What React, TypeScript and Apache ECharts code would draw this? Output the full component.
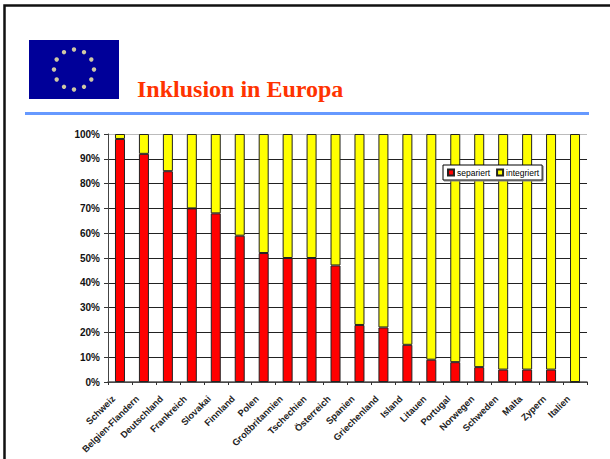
import React, { useEffect, useRef } from "react";
import * as echarts from "echarts";

const categories = ["Schweiz","Belgien-Flandern","Deutschland","Frankreich","Slovakai","Finnland","Polen","Großbritannien","Tschechien","Österreich","Spanien","Griechenland","Island","Litauen","Portugal","Norwegen","Schweden","Malta","Zypern","Italien"];
const separiert = [98,92,85,70,68,59,52,50,50,47,23,22,15,9,8,6,5,5,5,0];
const integriert = [2,8,15,30,32,41,48,50,50,53,77,78,85,91,92,94,95,95,95,100];

const stars = [0,1,2,3,4,5,6,7,8,9,10,11];
const gridColors = ["#222","#222","#222","#222","#222","#222","#222","#222","#222","#222","#bbb"];

export default function App() {
  const ref = useRef<HTMLDivElement>(null);
  useEffect(() => {
    const chart = echarts.init(ref.current!, undefined, { renderer: "svg" });
    const cx = 74, cy = 69.5, r = 20;
    chart.setOption({
      animation: false,
      backgroundColor: "#ffffff",
      grid: { left: 108, right: 23, top: 134, bottom: 77, containLabel: false },
      legend: {
        left: 443, top: 165, itemWidth: 6, itemHeight: 6, itemGap: 6,
        icon: "rect",
        padding: [3, 3, 3, 4],
        backgroundColor: "#fff", borderColor: "#000", borderWidth: 1,
        shadowColor: "#888", shadowOffsetX: 1, shadowOffsetY: 1, shadowBlur: 0,
        textStyle: { fontFamily: "Liberation Sans", fontSize: 8.5, color: "#000", padding: [0,0,0,-2] },
        data: ["separiert", "integriert"],
      },
      xAxis: {
        type: "category", data: categories,
        axisLine: { lineStyle: { color: "#555", width: 1.5 } },
        axisTick: { show: true, alignWithLabel: false, lineStyle: { color: "#333" }, length: 3 },
        axisLabel: { interval: 0, rotate: 45, fontFamily: "Liberation Sans", fontSize: 9.3, fontWeight: "bold", color: "#222", margin: 9, padding: [0, 9, 0, 0] },
      },
      yAxis: {
        type: "value", min: 0, max: 100, interval: 10,
        axisLine: { show: true, lineStyle: { color: "#444", width: 1 } },
        axisTick: { show: true, length: 4, lineStyle: { color: "#333" } },
        axisLabel: { formatter: "{value}%", fontFamily: "Liberation Sans", fontSize: 10, fontWeight: "bold", color: "#111", margin: 8 },
        splitLine: { show: true, lineStyle: { color: gridColors, width: 1 } },
      },
      series: [
        { name: "separiert", type: "bar", stack: "a", data: separiert, barWidth: 10, itemStyle: { color: "#ff0000", borderColor: "#222", borderWidth: 1 } },
        { name: "integriert", type: "bar", stack: "a", data: integriert, barWidth: 10, itemStyle: { color: "#ffff00", borderColor: "#222", borderWidth: 1 } },
      ],
      graphic: [
        { type: "rect", shape: { x: 4.5, y: 5.5, width: 620, height: 470 }, style: { fill: "none", stroke: "#111", lineWidth: 2.5 } },
        { type: "rect", shape: { x: 29, y: 40, width: 90, height: 59 }, style: { fill: "#000099" } },
        ...stars.map((i) => ({
          type: "circle",
          shape: { cx: cx + r * Math.sin((i * Math.PI) / 6), cy: cy + r * Math.cos((i * Math.PI) / 6), r: 2.2 },
          style: { fill: "#cfc8a4" },
        })),
        { type: "text", x: 137, y: 77, style: { text: "Inklusion in Europa", font: "bold 24px 'Liberation Serif'", fill: "#ff3300" } },
        { type: "rect", shape: { x: 25, y: 112, width: 564, height: 3 }, style: { fill: "#6699ff" } },
      ],
    });
    return () => chart.dispose();
  }, []);
  return <div ref={ref} style={{ position: "fixed", left: 0, top: 0, width: 610, height: 459 }} />;
}
